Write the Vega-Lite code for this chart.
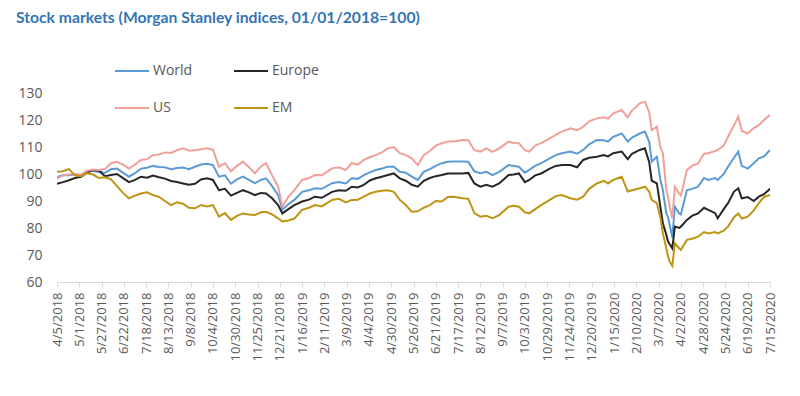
{
  "$schema": "https://vega.github.io/schema/vega-lite/v6.json",
  "autosize": {"type": "none"},
  "width": 713,
  "height": 189,
  "padding": {"left": 57, "top": 93, "right": 30, "bottom": 114},
  "background": "white",
  "title": {
    "text": "Stock markets (Morgan Stanley indices, 01/01/2018=100)",
    "anchor": "start",
    "frame": "group",
    "dx": -41,
    "offset": 26,
    "font": "Lato",
    "fontSize": 15.7,
    "fontWeight": "bold",
    "color": "#3375B5"
  },
  "config": {
    "view": {"stroke": null},
    "font": "Open Sans"
  },
  "data": {
    "values": [
      {"date": "2018-04-05", "World": 98.9, "Europe": 96.4, "US": 98.3, "EM": 100.8},
      {"date": "2018-04-12", "World": 99.5, "Europe": 97.0, "US": 99.5, "EM": 101.0},
      {"date": "2018-04-19", "World": 99.5, "Europe": 97.7, "US": 99.8, "EM": 101.8},
      {"date": "2018-04-26", "World": 99.8, "Europe": 98.5, "US": 100.0, "EM": 99.5},
      {"date": "2018-05-03", "World": 99.6, "Europe": 99.0, "US": 99.8, "EM": 99.2},
      {"date": "2018-05-10", "World": 100.8, "Europe": 100.5, "US": 101.2, "EM": 100.3},
      {"date": "2018-05-17", "World": 101.2, "Europe": 101.5, "US": 101.7, "EM": 99.8},
      {"date": "2018-05-24", "World": 100.7, "Europe": 101.2, "US": 101.5, "EM": 98.5},
      {"date": "2018-05-31", "World": 100.5, "Europe": 99.2, "US": 101.8, "EM": 98.8},
      {"date": "2018-06-07", "World": 101.8, "Europe": 99.6, "US": 104.0, "EM": 98.0},
      {"date": "2018-06-14", "World": 102.0, "Europe": 100.0, "US": 104.5, "EM": 95.5},
      {"date": "2018-06-21", "World": 100.5, "Europe": 98.5, "US": 103.5, "EM": 93.0},
      {"date": "2018-06-28", "World": 99.0, "Europe": 97.0, "US": 102.0, "EM": 91.0},
      {"date": "2018-07-05", "World": 100.3, "Europe": 97.8, "US": 103.5, "EM": 92.0},
      {"date": "2018-07-12", "World": 102.0, "Europe": 99.0, "US": 105.2, "EM": 92.8},
      {"date": "2018-07-19", "World": 102.3, "Europe": 98.6, "US": 105.5, "EM": 93.2},
      {"date": "2018-07-26", "World": 103.0, "Europe": 99.4, "US": 107.0, "EM": 92.2},
      {"date": "2018-08-02", "World": 102.6, "Europe": 98.8, "US": 107.2, "EM": 91.5},
      {"date": "2018-08-09", "World": 102.5, "Europe": 98.3, "US": 108.0, "EM": 90.0},
      {"date": "2018-08-16", "World": 101.8, "Europe": 97.4, "US": 107.8, "EM": 88.5},
      {"date": "2018-08-23", "World": 102.2, "Europe": 97.0, "US": 108.8, "EM": 89.5},
      {"date": "2018-08-30", "World": 102.4, "Europe": 96.5, "US": 109.5, "EM": 89.0},
      {"date": "2018-09-06", "World": 101.8, "Europe": 96.0, "US": 108.6, "EM": 87.5},
      {"date": "2018-09-13", "World": 102.7, "Europe": 96.4, "US": 108.8, "EM": 87.3},
      {"date": "2018-09-20", "World": 103.5, "Europe": 98.0, "US": 109.2, "EM": 88.5},
      {"date": "2018-09-27", "World": 103.8, "Europe": 98.4, "US": 109.5, "EM": 88.0},
      {"date": "2018-10-04", "World": 103.3, "Europe": 97.8, "US": 109.0, "EM": 88.5},
      {"date": "2018-10-11", "World": 99.0, "Europe": 94.0, "US": 102.7, "EM": 84.2},
      {"date": "2018-10-18", "World": 99.5, "Europe": 94.5, "US": 104.0, "EM": 85.5},
      {"date": "2018-10-25", "World": 96.4, "Europe": 92.0, "US": 101.0, "EM": 83.0},
      {"date": "2018-11-01", "World": 98.0, "Europe": 93.0, "US": 103.0, "EM": 84.5},
      {"date": "2018-11-08", "World": 99.0, "Europe": 94.0, "US": 104.6, "EM": 85.4},
      {"date": "2018-11-15", "World": 97.8, "Europe": 93.2, "US": 102.5, "EM": 85.0},
      {"date": "2018-11-22", "World": 96.6, "Europe": 92.2, "US": 100.3, "EM": 84.8},
      {"date": "2018-11-29", "World": 97.8, "Europe": 93.0, "US": 102.8, "EM": 85.8},
      {"date": "2018-12-05", "World": 98.4, "Europe": 92.8, "US": 104.0, "EM": 86.0},
      {"date": "2018-12-12", "World": 95.5, "Europe": 91.0, "US": 99.5, "EM": 85.0},
      {"date": "2018-12-19", "World": 92.2, "Europe": 88.5, "US": 95.3, "EM": 83.6},
      {"date": "2018-12-24", "World": 86.8, "Europe": 85.4, "US": 87.9, "EM": 82.4},
      {"date": "2018-12-31", "World": 88.8, "Europe": 87.0, "US": 91.5, "EM": 82.8},
      {"date": "2019-01-07", "World": 90.4, "Europe": 88.5, "US": 94.0, "EM": 83.5},
      {"date": "2019-01-16", "World": 93.4, "Europe": 89.8, "US": 97.8, "EM": 86.7},
      {"date": "2019-01-24", "World": 94.0, "Europe": 90.5, "US": 98.5, "EM": 87.5},
      {"date": "2019-01-31", "World": 94.7, "Europe": 91.6, "US": 99.6, "EM": 88.5},
      {"date": "2019-02-08", "World": 94.5, "Europe": 91.2, "US": 99.5, "EM": 88.0},
      {"date": "2019-02-20", "World": 96.6, "Europe": 93.4, "US": 102.1, "EM": 90.4},
      {"date": "2019-02-28", "World": 97.0, "Europe": 94.0, "US": 102.5, "EM": 90.8},
      {"date": "2019-03-08", "World": 96.5, "Europe": 93.8, "US": 101.5, "EM": 89.5},
      {"date": "2019-03-15", "World": 98.4, "Europe": 95.3, "US": 104.0, "EM": 90.4},
      {"date": "2019-03-22", "World": 98.2, "Europe": 95.0, "US": 103.5, "EM": 90.5},
      {"date": "2019-03-29", "World": 99.6, "Europe": 96.0, "US": 105.2, "EM": 91.6},
      {"date": "2019-04-05", "World": 100.6, "Europe": 97.6, "US": 106.2, "EM": 92.8},
      {"date": "2019-04-12", "World": 101.5, "Europe": 98.4, "US": 107.0, "EM": 93.4},
      {"date": "2019-04-19", "World": 102.0, "Europe": 99.0, "US": 108.0, "EM": 93.8},
      {"date": "2019-04-26", "World": 102.7, "Europe": 99.6, "US": 109.5, "EM": 94.0},
      {"date": "2019-05-03", "World": 102.7, "Europe": 100.2, "US": 110.0, "EM": 93.4},
      {"date": "2019-05-10", "World": 100.8, "Europe": 98.4, "US": 107.7, "EM": 90.4},
      {"date": "2019-05-17", "World": 100.5, "Europe": 97.5, "US": 107.0, "EM": 88.5},
      {"date": "2019-05-24", "World": 99.0, "Europe": 96.0, "US": 105.8, "EM": 86.0},
      {"date": "2019-05-31", "World": 97.8, "Europe": 95.3, "US": 103.3, "EM": 86.2},
      {"date": "2019-06-07", "World": 100.8, "Europe": 97.5, "US": 107.0, "EM": 87.5},
      {"date": "2019-06-14", "World": 101.8, "Europe": 98.5, "US": 108.5, "EM": 88.5},
      {"date": "2019-06-21", "World": 103.0, "Europe": 99.2, "US": 110.5, "EM": 90.0},
      {"date": "2019-06-28", "World": 104.0, "Europe": 99.6, "US": 111.4, "EM": 89.8},
      {"date": "2019-07-05", "World": 104.5, "Europe": 100.2, "US": 112.0, "EM": 91.5},
      {"date": "2019-07-12", "World": 104.6, "Europe": 100.2, "US": 112.0, "EM": 91.6},
      {"date": "2019-07-22", "World": 104.6, "Europe": 100.2, "US": 112.6, "EM": 91.0},
      {"date": "2019-07-29", "World": 104.5, "Europe": 100.4, "US": 112.5, "EM": 90.8},
      {"date": "2019-08-05", "World": 101.0, "Europe": 96.5, "US": 108.8, "EM": 85.5},
      {"date": "2019-08-12", "World": 100.3, "Europe": 95.3, "US": 108.3, "EM": 84.2},
      {"date": "2019-08-19", "World": 100.8, "Europe": 96.0, "US": 109.5, "EM": 84.5},
      {"date": "2019-08-26", "World": 99.6, "Europe": 95.3, "US": 108.2, "EM": 83.6},
      {"date": "2019-09-03", "World": 100.8, "Europe": 96.5, "US": 109.5, "EM": 84.8},
      {"date": "2019-09-14", "World": 103.3, "Europe": 99.6, "US": 112.0, "EM": 87.9},
      {"date": "2019-09-20", "World": 103.0, "Europe": 99.8, "US": 111.5, "EM": 88.2},
      {"date": "2019-09-26", "World": 102.7, "Europe": 100.2, "US": 111.4, "EM": 87.9},
      {"date": "2019-10-03", "World": 100.5, "Europe": 97.0, "US": 108.8, "EM": 85.8},
      {"date": "2019-10-08", "World": 101.5, "Europe": 97.8, "US": 108.3, "EM": 85.4},
      {"date": "2019-10-15", "World": 103.0, "Europe": 99.5, "US": 110.5, "EM": 87.0},
      {"date": "2019-10-22", "World": 104.0, "Europe": 100.2, "US": 111.4, "EM": 88.5},
      {"date": "2019-11-01", "World": 105.8, "Europe": 102.0, "US": 113.2, "EM": 90.4},
      {"date": "2019-11-08", "World": 107.0, "Europe": 103.0, "US": 114.5, "EM": 91.8},
      {"date": "2019-11-15", "World": 107.7, "Europe": 103.3, "US": 115.7, "EM": 92.2},
      {"date": "2019-11-25", "World": 108.3, "Europe": 103.3, "US": 116.9, "EM": 91.0},
      {"date": "2019-12-03", "World": 107.5, "Europe": 102.5, "US": 116.2, "EM": 90.5},
      {"date": "2019-12-10", "World": 108.9, "Europe": 105.2, "US": 117.5, "EM": 91.6},
      {"date": "2019-12-17", "World": 111.0, "Europe": 106.0, "US": 119.5, "EM": 94.5},
      {"date": "2019-12-26", "World": 112.6, "Europe": 106.4, "US": 120.6, "EM": 96.5},
      {"date": "2020-01-03", "World": 112.5, "Europe": 107.0, "US": 121.0, "EM": 97.5},
      {"date": "2020-01-08", "World": 112.0, "Europe": 106.5, "US": 120.5, "EM": 96.5},
      {"date": "2020-01-14", "World": 113.8, "Europe": 107.7, "US": 122.5, "EM": 97.8},
      {"date": "2020-01-24", "World": 115.0, "Europe": 108.3, "US": 123.7, "EM": 99.0},
      {"date": "2020-01-31", "World": 112.0, "Europe": 105.5, "US": 121.0, "EM": 93.5},
      {"date": "2020-02-05", "World": 113.5, "Europe": 107.5, "US": 123.5, "EM": 94.0},
      {"date": "2020-02-14", "World": 115.0, "Europe": 108.9, "US": 126.2, "EM": 94.7},
      {"date": "2020-02-20", "World": 115.7, "Europe": 109.5, "US": 126.8, "EM": 95.3},
      {"date": "2020-02-25", "World": 112.0, "Europe": 104.5, "US": 123.0, "EM": 93.5},
      {"date": "2020-02-28", "World": 104.6, "Europe": 97.5, "US": 116.3, "EM": 90.4},
      {"date": "2020-03-05", "World": 106.4, "Europe": 96.5, "US": 117.5, "EM": 89.2},
      {"date": "2020-03-09", "World": 98.0, "Europe": 88.0, "US": 110.0, "EM": 84.0},
      {"date": "2020-03-12", "World": 94.0, "Europe": 81.7, "US": 107.7, "EM": 78.0},
      {"date": "2020-03-16", "World": 85.4, "Europe": 77.5, "US": 94.0, "EM": 72.5},
      {"date": "2020-03-18", "World": 84.0, "Europe": 75.0, "US": 91.5, "EM": 69.5},
      {"date": "2020-03-20", "World": 81.0, "Europe": 74.0, "US": 88.0, "EM": 67.5},
      {"date": "2020-03-23", "World": 76.5, "Europe": 72.5, "US": 83.6, "EM": 66.0},
      {"date": "2020-03-26", "World": 87.9, "Europe": 80.5, "US": 95.3, "EM": 74.3},
      {"date": "2020-03-31", "World": 85.4, "Europe": 80.0, "US": 92.8, "EM": 72.5},
      {"date": "2020-04-02", "World": 85.0, "Europe": 80.5, "US": 92.0, "EM": 71.9},
      {"date": "2020-04-09", "World": 94.0, "Europe": 83.0, "US": 101.5, "EM": 75.6},
      {"date": "2020-04-15", "World": 94.5, "Europe": 84.5, "US": 103.0, "EM": 76.0},
      {"date": "2020-04-22", "World": 95.3, "Europe": 85.4, "US": 103.9, "EM": 76.8},
      {"date": "2020-04-29", "World": 98.5, "Europe": 87.5, "US": 107.5, "EM": 78.5},
      {"date": "2020-05-04", "World": 97.8, "Europe": 86.7, "US": 107.7, "EM": 78.0},
      {"date": "2020-05-12", "World": 98.5, "Europe": 85.5, "US": 108.5, "EM": 78.5},
      {"date": "2020-05-15", "World": 97.8, "Europe": 83.6, "US": 108.9, "EM": 78.0},
      {"date": "2020-05-22", "World": 100.0, "Europe": 87.0, "US": 110.5, "EM": 79.0},
      {"date": "2020-05-27", "World": 102.7, "Europe": 89.2, "US": 113.8, "EM": 80.5},
      {"date": "2020-06-03", "World": 106.0, "Europe": 93.5, "US": 118.0, "EM": 84.0},
      {"date": "2020-06-08", "World": 108.3, "Europe": 94.7, "US": 121.2, "EM": 85.4},
      {"date": "2020-06-12", "World": 103.0, "Europe": 91.0, "US": 116.0, "EM": 83.5},
      {"date": "2020-06-19", "World": 102.0, "Europe": 91.5, "US": 115.0, "EM": 84.2},
      {"date": "2020-06-26", "World": 104.0, "Europe": 90.0, "US": 117.0, "EM": 86.5},
      {"date": "2020-07-02", "World": 105.8, "Europe": 91.6, "US": 118.1, "EM": 89.2},
      {"date": "2020-07-08", "World": 106.5, "Europe": 92.5, "US": 120.0, "EM": 91.5},
      {"date": "2020-07-15", "World": 108.9, "Europe": 94.5, "US": 121.9, "EM": 92.2}
    ]
  },
  "transform": [
    {"fold": ["World", "Europe", "US", "EM"], "as": ["series", "value"]}
  ],
  "mark": {"type": "line", "strokeWidth": 2, "clip": true},
  "encoding": {
    "x": {
      "field": "date",
      "type": "temporal",
      "scale": {
        "type": "utc",
        "domain": [
          {"year": 2018, "month": 4, "date": 5, "utc": true},
          {"year": 2020, "month": 7, "date": 15, "utc": true}
        ]
      },
      "axis": {
        "title": null,
        "values": [
          {"year": 2018, "month": 4, "date": 5, "utc": true},
          {"year": 2018, "month": 5, "date": 1, "utc": true},
          {"year": 2018, "month": 5, "date": 27, "utc": true},
          {"year": 2018, "month": 6, "date": 22, "utc": true},
          {"year": 2018, "month": 7, "date": 18, "utc": true},
          {"year": 2018, "month": 8, "date": 13, "utc": true},
          {"year": 2018, "month": 9, "date": 8, "utc": true},
          {"year": 2018, "month": 10, "date": 4, "utc": true},
          {"year": 2018, "month": 10, "date": 30, "utc": true},
          {"year": 2018, "month": 11, "date": 25, "utc": true},
          {"year": 2018, "month": 12, "date": 21, "utc": true},
          {"year": 2019, "month": 1, "date": 16, "utc": true},
          {"year": 2019, "month": 2, "date": 11, "utc": true},
          {"year": 2019, "month": 3, "date": 9, "utc": true},
          {"year": 2019, "month": 4, "date": 4, "utc": true},
          {"year": 2019, "month": 4, "date": 30, "utc": true},
          {"year": 2019, "month": 5, "date": 26, "utc": true},
          {"year": 2019, "month": 6, "date": 21, "utc": true},
          {"year": 2019, "month": 7, "date": 17, "utc": true},
          {"year": 2019, "month": 8, "date": 12, "utc": true},
          {"year": 2019, "month": 9, "date": 7, "utc": true},
          {"year": 2019, "month": 10, "date": 3, "utc": true},
          {"year": 2019, "month": 10, "date": 29, "utc": true},
          {"year": 2019, "month": 11, "date": 24, "utc": true},
          {"year": 2019, "month": 12, "date": 20, "utc": true},
          {"year": 2020, "month": 1, "date": 15, "utc": true},
          {"year": 2020, "month": 2, "date": 10, "utc": true},
          {"year": 2020, "month": 3, "date": 7, "utc": true},
          {"year": 2020, "month": 4, "date": 2, "utc": true},
          {"year": 2020, "month": 4, "date": 28, "utc": true},
          {"year": 2020, "month": 5, "date": 24, "utc": true},
          {"year": 2020, "month": 6, "date": 19, "utc": true},
          {"year": 2020, "month": 7, "date": 15, "utc": true}
        ],
        "format": "%-m/%-d/%Y",
        "labelAngle": -90,
        "labelAlign": "right",
        "labelBaseline": "middle",
        "labelFontSize": 13,
        "labelColor": "#595959",
        "labelPadding": 5,
        "labelOverlap": false,
        "labelFlush": false,
        "grid": false,
        "domainColor": "#D9D9D9",
        "tickColor": "#D9D9D9",
        "tickSize": 5
      }
    },
    "y": {
      "field": "value",
      "type": "quantitative",
      "scale": {"domain": [60, 130], "nice": false, "zero": false},
      "axis": {
        "title": null,
        "values": [60, 70, 80, 90, 100, 110, 120, 130],
        "grid": false,
        "domain": false,
        "ticks": false,
        "labelPadding": 15,
        "labelFontSize": 14,
        "labelColor": "#595959"
      }
    },
    "color": {
      "field": "series",
      "type": "nominal",
      "scale": {
        "domain": ["World", "Europe", "US", "EM"],
        "range": ["#5B9BD5", "#262626", "#F0A099", "#BF9412"]
      },
      "legend": {
        "title": null,
        "orient": "none",
        "direction": "horizontal",
        "legendX": 57,
        "legendY": -40,
        "columns": 2,
        "symbolType": "stroke",
        "symbolSize": 1156,
        "symbolStrokeWidth": 2,
        "labelFontSize": 14,
        "labelColor": "#595959",
        "labelOffset": 3,
        "columnPadding": 37,
        "rowPadding": 12
      }
    }
  }
}
